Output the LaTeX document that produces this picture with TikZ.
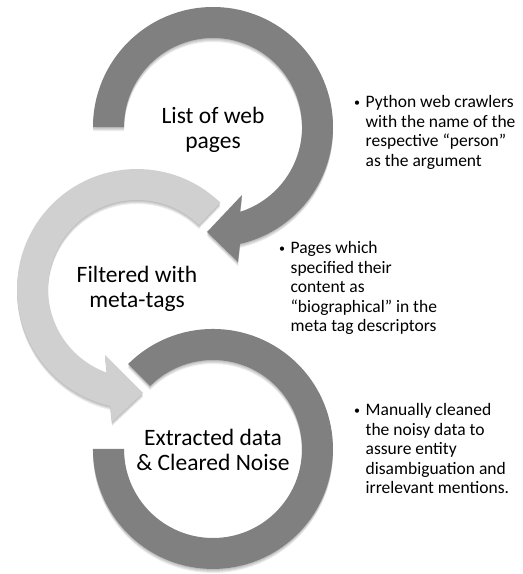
\documentclass[tikz,border=0pt]{standalone}
\usepackage{fontspec}
\setmainfont{Carlito}
\definecolor{ringdark}{RGB}{128,128,128}
\definecolor{ringlight}{RGB}{208,208,208}
\newcommand\smallbul{{\fontsize{12}{12}\selectfont\raisebox{1.8pt}{•}}}
\tikzset{
  lbl/.style={align=center, inner sep=0pt, font=\fontsize{23.5}{25}\selectfont},
  bul/.style={anchor=base west, inner sep=0pt, font=\fontsize{17.5}{19.5}\selectfont},
  shadowcopy/.style={fill=black, fill opacity=0.07},
}
\newcommand\ringApath{(93,447) arc[start angle=180, end angle=-77, radius=120] -- (238,312) -- (207,342) -- (242,379) -- (240.1,362.2) arc[start angle=-72.3, end angle=180, radius=89] -- cycle}
\newcommand\ringBpath{(220.4,371.3) arc[start angle=46, end angle=257.1, radius=120] -- (112,152) -- (143,181) -- (105,219) -- (106.9,201.3) arc[start angle=250.2, end angle=46, radius=89] -- cycle}
\newcommand\ringCpath{(128.1,209.9) arc[start angle=135, end angle=-180, radius=120] -- (124,125) arc[start angle=-180, end angle=135, radius=89] -- cycle}
\newcommand\softshadow[1]{%
  \foreach \s in {1,2,3,4}{\fill[shadowcopy, yshift=-\s pt] #1;}}
\begin{document}
\begin{tikzpicture}[x=1pt,y=1pt]
\useasboundingbox (0,0) rectangle (523,574);
% rings
\softshadow{\ringApath}
\fill[ringdark] \ringApath;
\softshadow{\ringBpath}
\fill[ringlight] \ringBpath;
\softshadow{\ringCpath}
\fill[ringdark] \ringCpath;
% labels
\node[lbl] (lA) at (213,444) {List of web\\pages};
\node[lbl] (lB) at (137,285) {Filtered with\\meta-tags};
\node[lbl] (lC) at (213,124) {Extracted data\\\& Cleared Noise};
% bullets
\node[bul] (bA) at (354,466) {\begin{tabular}[t]{@{}l@{\hspace{5.5pt}}l@{}}\smallbul&Python web crawlers\\&with the name of the\\&respective “person”\\&as the argument\end{tabular}};
\node[bul] (bB) at (279,320) {\begin{tabular}[t]{@{}l@{\hspace{5.5pt}}l@{}}\smallbul&Pages which\\&specified their\\&content as\\&“biographical” in the\\&meta tag descriptors\end{tabular}};
\node[bul] (bC) at (354,158) {\begin{tabular}[t]{@{}l@{\hspace{5.5pt}}l@{}}\smallbul&Manually cleaned\\&the noisy data to\\&assure entity\\&disambiguation and\\&irrelevant mentions.\end{tabular}};
\end{tikzpicture}
\end{document}
